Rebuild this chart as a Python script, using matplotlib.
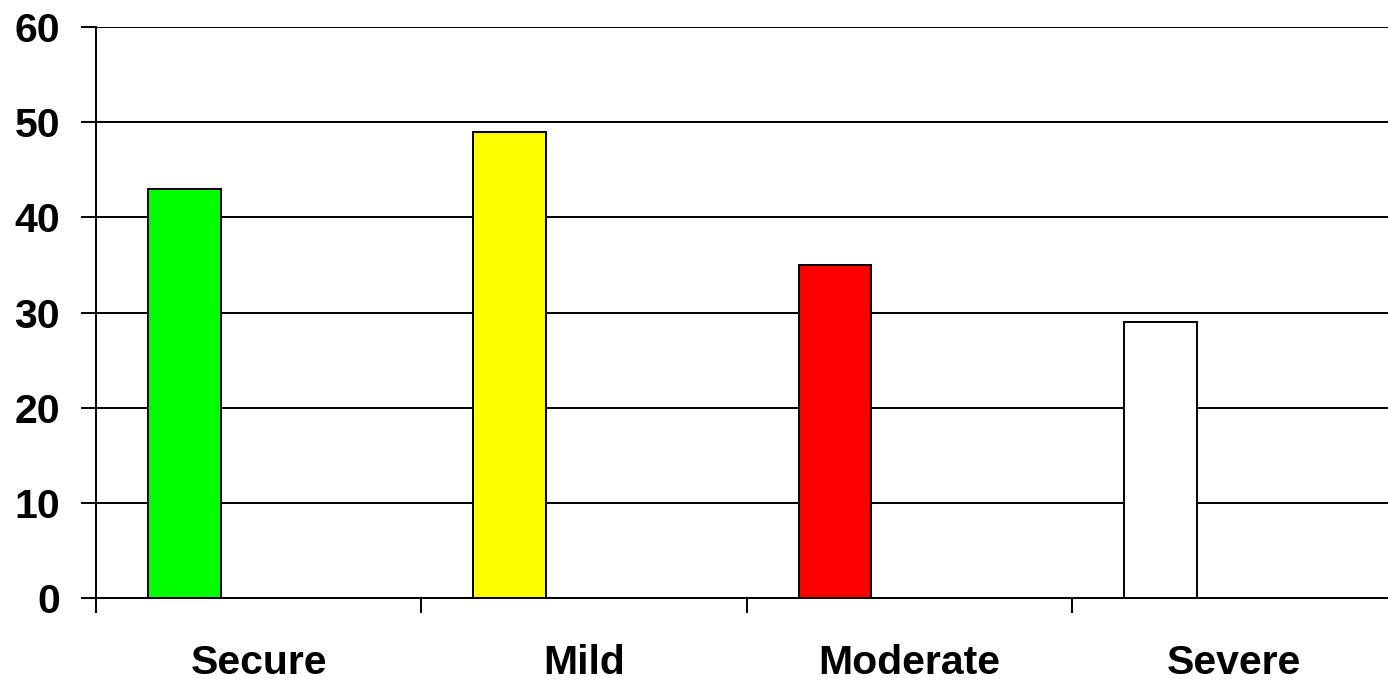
import matplotlib
matplotlib.use("Agg")
import matplotlib.pyplot as plt
import numpy as np

categories = ["Secure", "Mild", "Moderate", "Severe"]
values = [43, 49, 35, 29]
colors = ["#00FF00", "#FFFF00", "#FF0000", "#FFFFFF"]
yticks = [0, 10, 20, 30, 40, 50, 60]

plt.rcParams['font.family'] = ['Liberation Sans', 'DejaVu Sans']

W, H = 1388, 682
fig = plt.figure(figsize=(W / 100, H / 100), dpi=100)
left = 96 / W
bottom = (H - 598) / H
top = (H - 27) / H
width = (1397 - 96) / W
ax = fig.add_axes([left, bottom, width, top - bottom])

x = np.arange(len(categories))
ax.bar(x + 0.272, values, width=0.224, color=colors, edgecolor="black",
       linewidth=1.4, zorder=3)

ax.set_xlim(0, len(categories))
ax.set_ylim(0, 60)
ax.set_yticks(yticks)
ax.set_yticklabels([str(v) for v in yticks], fontsize=29.5, fontweight="bold")
ax.yaxis.grid(True, color="black", linewidth=1.4, zorder=0)
ax.set_axisbelow(True)

ax.set_xticks(np.arange(len(categories) + 1))
ax.set_xticklabels([])
ax.set_xticks(x + 0.5, minor=True)
ax.set_xticklabels(categories, minor=True, fontsize=29.5, fontweight="bold")
ax.tick_params(axis="x", which="major", length=11, width=1.4, direction="out")
ax.tick_params(axis="x", which="minor", length=0, pad=33)
ax.tick_params(axis="y", length=11, width=1.4, direction="out", pad=15)

for s in ["top", "right"]:
    ax.spines[s].set_visible(False)
for s in ["left", "bottom"]:
    ax.spines[s].set_linewidth(1.4)
    ax.spines[s].set_color("black")

fig.savefig("out.png", dpi=100, facecolor="white")
